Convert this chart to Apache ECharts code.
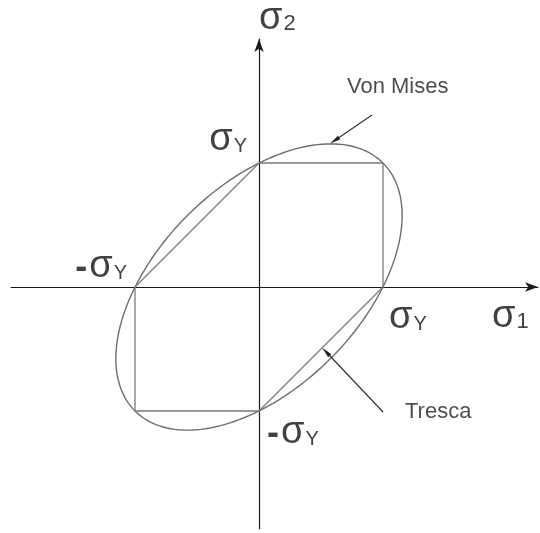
<!DOCTYPE html>
<html>
<head>
<meta charset="utf-8">
<title>Von Mises and Tresca yield criteria</title>
<script src="https://cdn.jsdelivr.net/npm/echarts@6/dist/echarts.min.js"></script>
<style>
  html, body { margin: 0; padding: 0; background: #fff; }
  #chart { width: 540px; height: 533px; }
</style>
</head>
<body>
<div id="chart"></div>
<script>
// Principal stress plane, all values in units of the yield stress σY
const trescaHexagon = [[1, 0], [1, 1], [0, 1], [-1, 0], [-1, -1], [0, -1], [1, 0]];
// centre σ1, centre σ2, semi-major, semi-minor, tilt in degrees
const vonMisesEllipse = [[0, 0, 1.414, 0.816, 45]];
// pointer lines: from (σ1, σ2) to (σ1, σ2)
const pointerLines = [[0.911, 1.387, 0.573, 1.155], [1.0, -1.008, 0.51, -0.49]];
const curveNames = ['Von Mises', 'Tresca'];
const yieldPoints = [[0, 1], [-1, 0], [1, 0], [0, -1]];
const yieldSigns = ['', '-', '', '-'];
const axisEnds = [[2.25, 0], [0, 2.0]];
const axisSubscripts = ['1', '2'];

const chart = echarts.init(document.getElementById('chart'), null, { renderer: 'canvas' });

const FONT = '"Liberation Sans", Arial, sans-serif';
const richStyles = {
  m: { fontSize: 36, fontWeight: 'bold', fontFamily: FONT, color: '#111', verticalAlign: 'bottom', padding: [0, 2, 0, 0] },
  s: { fontSize: 38, fontFamily: FONT, color: '#111', verticalAlign: 'bottom' },
  sub: { fontSize: 20, fontFamily: FONT, color: '#111', verticalAlign: 'bottom', padding: [0, 0, 3, 1] },
  num: { fontSize: 22, fontFamily: FONT, color: '#111', verticalAlign: 'bottom', padding: [0, 0, 3, 1] }
};

// label placement around the yield points (pixels)
const yieldLabelPlacement = [
  { align: 'right', offset: [-12, -23] },
  { align: 'right', offset: [-8, -20] },
  { align: 'left', offset: [6, 31] },
  { align: 'left', offset: [8, 22] }
];
const axisLabelPlacement = [
  { align: 'left', offset: [-46, 30] },
  { align: 'left', offset: [0, -20] }
];
const curveLabelPlacement = [
  { align: 'left', offset: [-25, -28] },
  { align: 'left', offset: [22, 0] }
];

function stressLabel(sign) {
  return (sign ? '{m|' + sign + '}' : '') + '{s|σ}';
}

const yieldLabelData = yieldPoints.map((p, i) => ({
  value: p,
  label: {
    show: true,
    position: 'inside',
    align: yieldLabelPlacement[i].align,
    verticalAlign: 'middle',
    offset: yieldLabelPlacement[i].offset,
    formatter: stressLabel(yieldSigns[i]) + '{sub|Y}',
    rich: richStyles
  }
}));

const axisLabelData = axisEnds.map((p, i) => ({
  value: p,
  label: {
    show: true,
    position: 'inside',
    align: axisLabelPlacement[i].align,
    verticalAlign: 'middle',
    offset: axisLabelPlacement[i].offset,
    formatter: stressLabel('') + '{num|' + axisSubscripts[i] + '}',
    rich: richStyles
  }
}));

const curveLabelData = pointerLines.map((l, i) => ({
  value: [l[0], l[1]],
  label: {
    show: true,
    position: 'inside',
    align: curveLabelPlacement[i].align,
    verticalAlign: 'middle',
    offset: curveLabelPlacement[i].offset,
    formatter: curveNames[i],
    fontSize: 22,
    fontFamily: FONT,
    color: '#1e1e1e'
  }
}));

const axisCommon = {
  type: 'value',
  splitLine: { show: false },
  axisTick: { show: false },
  axisLabel: { show: false },
  axisLine: {
    show: true,
    onZero: true,
    symbol: ['none', 'arrow'],
    symbolSize: [7, 13],
    lineStyle: { color: '#1a1a1a', width: 1.2 }
  }
};

chart.setOption({
  backgroundColor: '#fff',
  animation: false,
  grid: { left: 11, right: 2, top: 39, bottom: 4.2, containLabel: false, outerBoundsMode: 'none' },
  xAxis: Object.assign({ min: -2, max: 2.25 }, axisCommon),
  yAxis: Object.assign({ min: -1.95, max: 2.0 }, axisCommon),
  series: [
    {
      name: 'Tresca',
      type: 'line',
      data: trescaHexagon,
      symbol: 'none',
      lineStyle: { color: '#7a7a7a', width: 1.3 },
      z: 3
    },
    {
      name: 'Von Mises',
      type: 'custom',
      data: vonMisesEllipse,
      renderItem: function (params, api) {
        const cx = api.value(0), cy = api.value(1);
        const a = api.value(2), b = api.value(3);
        const ang = api.value(4) * Math.PI / 180;
        const pts = [];
        for (let k = 0; k < 360; k += 2) {
          const t = k * Math.PI / 180;
          const x = cx + a * Math.cos(t) * Math.cos(ang) - b * Math.sin(t) * Math.sin(ang);
          const y = cy + a * Math.cos(t) * Math.sin(ang) + b * Math.sin(t) * Math.cos(ang);
          pts.push(api.coord([x, y]));
        }
        return {
          type: 'polygon',
          shape: { points: pts },
          style: { fill: null, stroke: '#6e6e6e', lineWidth: 1.4 }
        };
      },
      z: 3
    },
    {
      name: 'pointers',
      type: 'custom',
      data: pointerLines,
      renderItem: function (params, api) {
        const p0 = api.coord([api.value(0), api.value(1)]);
        const p1 = api.coord([api.value(2), api.value(3)]);
        const dx = p1[0] - p0[0], dy = p1[1] - p0[1];
        const len = Math.sqrt(dx * dx + dy * dy);
        const ux = dx / len, uy = dy / len;
        const hl = 11, hw = 2.2;
        const bx = p1[0] - ux * hl, by = p1[1] - uy * hl;
        return {
          type: 'group',
          children: [
            {
              type: 'line',
              shape: { x1: p0[0], y1: p0[1], x2: bx, y2: by },
              style: { stroke: '#333', lineWidth: 1.2 }
            },
            {
              type: 'polygon',
              shape: { points: [p1, [bx - uy * hw, by + ux * hw], [bx + uy * hw, by - ux * hw]] },
              style: { fill: '#222', stroke: null }
            }
          ]
        };
      },
      z: 4
    },
    {
      name: 'labels',
      type: 'scatter',
      symbolSize: 0,
      silent: true,
      data: yieldLabelData.concat(axisLabelData, curveLabelData),
      z: 5
    }
  ]
});
</script>
</body>
</html>
